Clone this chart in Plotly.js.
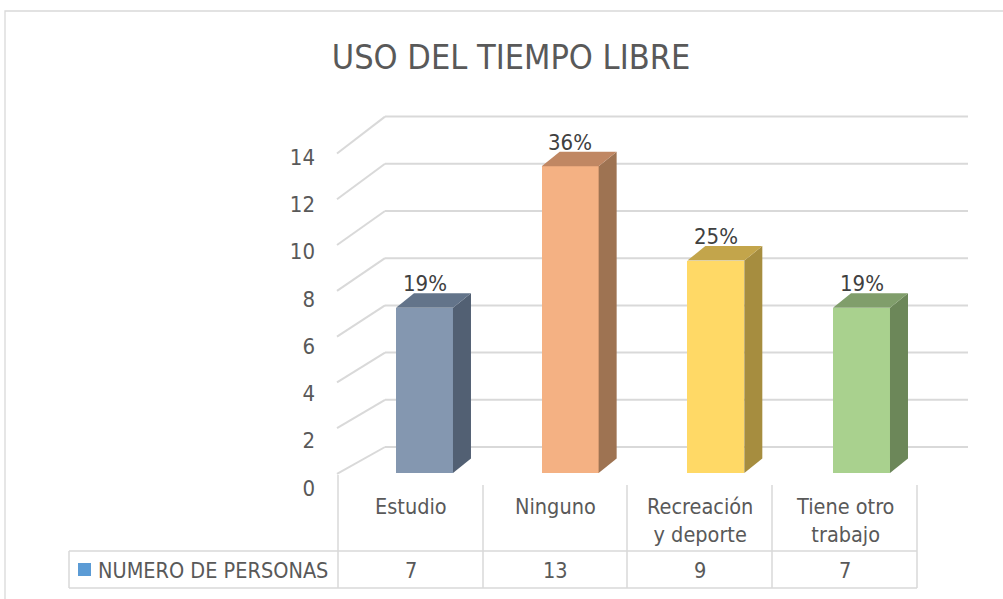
<!DOCTYPE html>
<html>
<head>
<meta charset="utf-8">
<script src="https://cdn.plot.ly/plotly-3.0.1.min.js"></script>
<style>html,body{margin:0;padding:0;background:#fff;}#chart{width:1003px;height:599px;}</style>
</head>
<body>
<div id="chart"></div>
<script>
// ---- data ----
const categories = ['Estudio', 'Ninguno', 'Recreación y deporte', 'Tiene otro trabajo'];
const tableLabels = ['Estudio', 'Ninguno', 'Recreación<br>y deporte', 'Tiene otro<br>trabajo'];
const personas = [7, 13, 9, 7];
const seriesName = 'NUMERO DE PERSONAS';
const yTicks = [0, 2, 4, 6, 8, 10, 12, 14];
const titleText = 'USO DEL TIEMPO LIBRE';

// ---- styles ----
const frontColors = ['#8497B0', '#F4B183', '#FFD966', '#A9D18E'];
const sideColors  = ['#526073', '#9E7352', '#A68D3F', '#6C8759'];
const topColors   = ['#63748A', '#C08763', '#C3A54B', '#809E6B'];
const FONT = '"Liberation Sans Narrow", "DejaVu Sans Condensed", Roboto, sans-serif';
const GRID = '#d9d9d9';

const W = 1003, H = 599;
const X0 = 424.5, XSTEP = 145.67;   // pixel of category 0 centre, pixels per category
const Y0 = 473, YS = 23.6;          // pixel of value 0, pixels per unit
const xRange = [(0 - X0) / XSTEP, (W - X0) / XSTEP];
const yRange = [(Y0 - H) / YS, Y0 / YS];
const px = v => v / W;            // paper x
const py = v => 1 - v / H;        // paper y

const barW = 0.391;
const dX = 18 / XSTEP, dZ = 14.5 / YS;   // 3D depth offsets
const backDX = (385 - X0) / XSTEP, backRight = (968 - X0) / XSTEP, frontDX = (337 - X0) / XSTEP;
const backDY = 26 / YS;

const idx = personas.map((_, i) => i);
const total = personas.reduce((a, b) => a + b, 0);

const traces = [];
traces.push({
  type: 'bar', x: idx, y: personas, width: barW, name: seriesName,
  marker: {color: frontColors, line: {width: 0}}, hoverinfo: 'skip', showlegend: false
});
personas.forEach((v, i) => {
  const r = i + barW / 2, l = i - barW / 2;
  traces.push({
    type: 'scatter', mode: 'lines', fill: 'toself', fillcolor: sideColors[i],
    line: {width: 0, color: sideColors[i]}, hoverinfo: 'skip', showlegend: false,
    x: [r, r + dX, r + dX, r, r], y: [0, dZ, v + dZ, v, 0]
  });
  traces.push({
    type: 'scatter', mode: 'lines', fill: 'toself', fillcolor: topColors[i],
    line: {width: 0, color: topColors[i]}, hoverinfo: 'skip', showlegend: false,
    x: [l, r, r + dX, l + dX, l], y: [v, v, v + dZ, v + dZ, v]
  });
});

const shapes = [];
// chart frame
shapes.push({type: 'rect', xref: 'paper', yref: 'paper', x0: px(5), x1: px(1010), y0: py(11), y1: py(620),
  line: {color: GRID, width: 1.3}, layer: 'below'});
// 3D gridlines (back wall + left wall diagonals)
yTicks.forEach(t => {
  shapes.push({type: 'line', xref: 'x', yref: 'y', x0: backDX, x1: backRight, y0: t + backDY, y1: t + backDY,
    line: {color: GRID, width: 2}, layer: 'below'});
  shapes.push({type: 'line', xref: 'x', yref: 'y', x0: frontDX, x1: backDX, y0: 0.97 * t - 0.04, y1: t + backDY,
    line: {color: GRID, width: 2}, layer: 'below'});
});
// data table lines
const colEdges = [338, 483, 627, 772, 917];
colEdges.forEach((e, k) => {
  shapes.push({type: 'line', xref: 'paper', yref: 'paper', x0: px(e), x1: px(e), y0: py(k === 0 ? 475 : 485), y1: py(588),
    line: {color: GRID, width: 1.5}});
});
shapes.push({type: 'line', xref: 'paper', yref: 'paper', x0: px(69), x1: px(69), y0: py(551), y1: py(588), line: {color: GRID, width: 1.5}});
shapes.push({type: 'line', xref: 'paper', yref: 'paper', x0: px(69), x1: px(917), y0: py(551), y1: py(551), line: {color: GRID, width: 1.5}});
shapes.push({type: 'line', xref: 'paper', yref: 'paper', x0: px(69), x1: px(917), y0: py(588), y1: py(588), line: {color: GRID, width: 1.5}});
// legend key
shapes.push({type: 'rect', xref: 'paper', yref: 'paper', x0: px(78), x1: px(91), y0: py(563), y1: py(576),
  fillcolor: '#5B9BD5', line: {width: 0}});

const annotations = [];
// data labels
personas.forEach((v, i) => {
  annotations.push({xref: 'x', yref: 'y', x: i, y: v, yshift: 24, text: Math.round(v / total * 100) + '%',
    showarrow: false, font: {family: FONT, size: 22, color: '#404040'}, xanchor: 'center', yanchor: 'middle'});
});
// table
tableLabels.forEach((t, i) => {
  const cx = (colEdges[i] + colEdges[i + 1]) / 2;
  annotations.push({xref: 'paper', yref: 'paper', x: px(cx), y: py(492), text: t, showarrow: false,
    xanchor: 'center', yanchor: 'top', font: {family: FONT, size: 21.5, color: '#595959'}});
  annotations.push({xref: 'paper', yref: 'paper', x: px(cx), y: py(570), text: String(personas[i]), showarrow: false,
    xanchor: 'center', yanchor: 'middle', font: {family: FONT, size: 21.5, color: '#595959'}});
});
annotations.push({xref: 'paper', yref: 'paper', x: px(96), y: py(570), text: seriesName, showarrow: false,
  xanchor: 'left', yanchor: 'middle', font: {family: FONT, size: 21.5, color: '#595959'}});

const tickY0 = 488, tickYS = 23.64;
const layout = {
  width: W, height: H,
  margin: {l: 0, r: 0, t: 0, b: 0, pad: 0},
  paper_bgcolor: '#ffffff', plot_bgcolor: 'rgba(0,0,0,0)',
  title: {text: titleText, x: 511 / W, xanchor: 'center', xref: 'paper', y: 1 - 57 / H, yanchor: 'middle', yref: 'container',
    font: {family: FONT, size: 34, color: '#595959'}},
  xaxis: {range: xRange, visible: false, fixedrange: true},
  yaxis: {range: yRange, visible: false, fixedrange: true},
  yaxis2: {overlaying: 'y', anchor: 'free', position: 315 / W, side: 'left',
    range: [(tickY0 - H) / tickYS, tickY0 / tickYS], tickvals: yTicks, ticktext: yTicks.map(String),
    showgrid: false, zeroline: false, showline: false, ticks: '',
    tickfont: {family: FONT, size: 22, color: '#595959'}, fixedrange: true},
  showlegend: false,
  bargap: 0,
  shapes: shapes,
  annotations: annotations
};
// dummy trace to activate yaxis2
traces.push({type: 'scatter', x: [0], y: [0], yaxis: 'y2', mode: 'markers', marker: {opacity: 0}, hoverinfo: 'skip', showlegend: false});

Plotly.newPlot('chart', traces, layout, {displayModeBar: false, staticPlot: true});
</script>
</body>
</html>
